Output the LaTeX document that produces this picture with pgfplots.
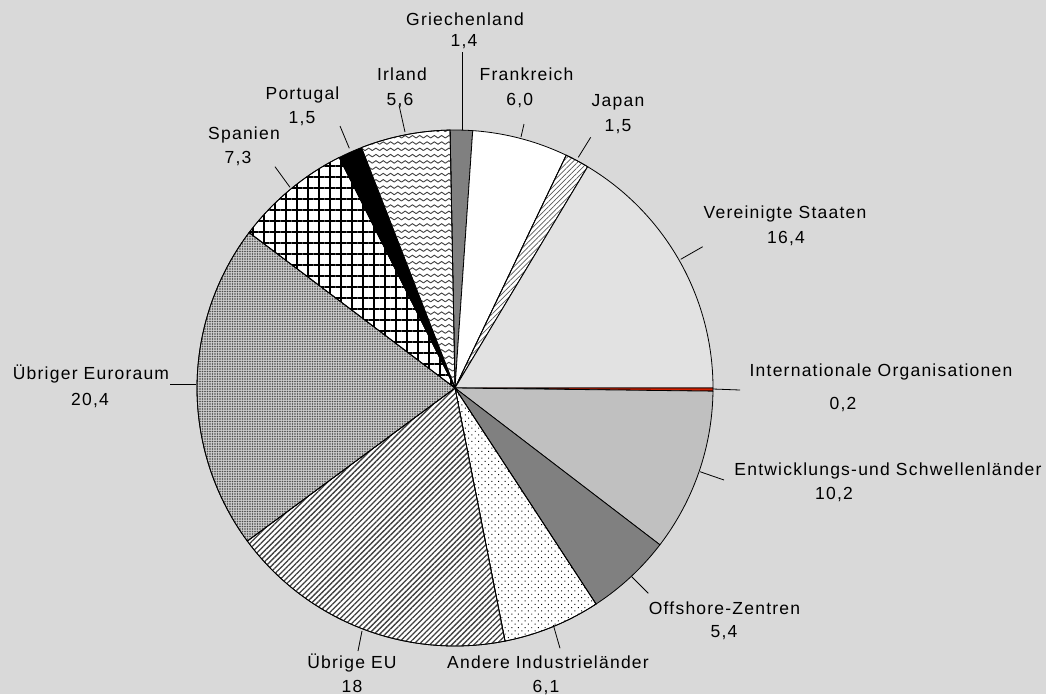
\documentclass[border=0pt]{standalone}
\usepackage{fontspec}
\setmainfont{Liberation Sans}[LetterSpace=7]
\usepackage{pgfplots}
\pgfplotsset{compat=1.18}
\usetikzlibrary{patterns,patterns.meta}

\definecolor{bg}{HTML}{D9D9D9}
\definecolor{dgray}{HTML}{808080}
\definecolor{lgray}{HTML}{E2E2E2}
\definecolor{mgray}{HTML}{C0C0C0}
\definecolor{iored}{HTML}{D42000}
\definecolor{eurogray}{HTML}{CCCCCC}

\pgfdeclarepatternformonly{irlwaves}{\pgfpoint{-1pt}{-1pt}}{\pgfpoint{8.3pt}{7.3pt}}{\pgfpoint{7.3pt}{6.3pt}}{%
  \pgfsetlinewidth{0.9pt}%
  \pgfpathmoveto{\pgfpoint{0pt}{1.6pt}}%
  \pgfpathcurveto{\pgfpoint{1.8pt}{1.6pt}}{\pgfpoint{1.8pt}{4.1pt}}{\pgfpoint{3.65pt}{4.1pt}}%
  \pgfpathcurveto{\pgfpoint{5.5pt}{4.1pt}}{\pgfpoint{5.5pt}{1.6pt}}{\pgfpoint{7.3pt}{1.6pt}}%
  \pgfusepath{stroke}%
}

\newcommand{\lbl}{\fontsize{17.5}{21}\selectfont}
\newcommand{\startang}{91.1}
% #1 = cumulative share before the slice, #2 = share of the slice (percent)
\newcommand{\slice}[3]{%
  \addplot[draw=black, line width=0.8pt, #3, domain=\startang-3.6*(#1+#2):\startang-3.6*(#1), samples=90]
    ({455+258*cos(x)},{388-258*sin(x)}) -- (axis cs:455,388) -- cycle;}
\newcommand{\lead}[4]{\addplot[black, line width=0.8pt] coordinates {(#1,#2) (#3,#4)};}
\newcommand{\lab}[6]{%
  \node[anchor=base, inner sep=0pt, font=\lbl] at (axis cs:#1,#2) {#3};
  \node[anchor=base, inner sep=0pt, font=\lbl] at (axis cs:#4,#5) {#6};}

\begin{document}
\begin{tikzpicture}
\begin{axis}[scale only axis, width=1046pt, height=694pt,
  xmin=0, xmax=1046, ymin=0, ymax=694, y dir=reverse,
  axis line style={draw=none}, ticks=none,
  axis background/.style={fill=bg}, clip=false]

\slice{0}{1.4}{fill=dgray}
\slice{1.4}{6.0}{fill=white}
\slice{7.4}{1.5}{fill=white, postaction={pattern={Lines[angle=45, distance=3.6pt, line width=0.7pt]}, pattern color=black!65}}
\slice{8.9}{16.4}{fill=lgray}
\slice{25.3}{0.2}{fill=iored}
\slice{25.5}{10.2}{fill=mgray}
\slice{35.7}{5.4}{fill=dgray}
\slice{41.1}{6.1}{fill=white, postaction={pattern={Dots[angle=45, distance=4.7pt, radius=0.7pt]}, pattern color=black}}
\slice{47.2}{18}{fill=white, postaction={pattern={Lines[angle=45, distance=3.9pt, line width=1.3pt]}, pattern color=black!75}}
\slice{65.2}{20.4}{fill=eurogray, postaction={pattern={Dots[distance=2.5pt, radius=0.8pt]}, pattern color=black!70}}
\slice{85.6}{7.3}{fill=white, postaction={pattern={Hatch[distance=11pt, line width=1.2pt]}, pattern color=black}}
\slice{92.9}{1.5}{fill=black}
\slice{94.4}{5.6}{fill=white, postaction={pattern=irlwaves, pattern color=black!75}}

\lead{462}{52}{462}{130}
\lead{524}{124}{521}{137}
\lead{590.7}{137.3}{578.3}{157.3}
\lead{702.7}{246.7}{680.7}{259.3}
\lead{713}{389}{740}{390}
\lead{700}{471.7}{724}{480}
\lead{631.7}{576.7}{648.3}{593.3}
\lead{553.3}{625}{560}{648.3}
\lead{362}{631}{358}{651}
\lead{170}{384}{196}{384}
\lead{275}{166.7}{290}{187.3}
\lead{340}{126}{349.3}{148.3}
\lead{399}{105}{405}{132}

\lab{465}{25}{Griechenland}{464}{46}{1,4}
\lab{526.5}{80}{Frankreich}{519.7}{105.5}{6,0}
\lab{618}{106.7}{Japan}{618}{131.7}{1,5}
\lab{785}{218}{Vereinigte Staaten}{786}{243}{16,4}
\lab{881}{376.7}{Internationale Organisationen}{843}{409}{0,2}
\lab{888}{475}{Entwicklungs-und Schwellenländer}{834}{499}{10,2}
\lab{724.5}{614.3}{Offshore-Zentren}{724}{637}{5,4}
\lab{548}{668}{Andere Industrieländer}{546}{692}{6,1}
\lab{352}{668}{Übrige EU}{352}{692}{18}
\lab{91}{379}{Übriger Euroraum}{90}{405}{20,4}
\lab{244}{139.5}{Spanien}{238}{163.5}{7,3}
\lab{302.5}{99.3}{Portugal}{302}{123}{1,5}
\lab{402}{80.7}{Irland}{400}{105}{5,6}
\end{axis}
\pgfresetboundingbox
\useasboundingbox (current axis.south west) rectangle (current axis.north east);
\end{tikzpicture}
\end{document}
